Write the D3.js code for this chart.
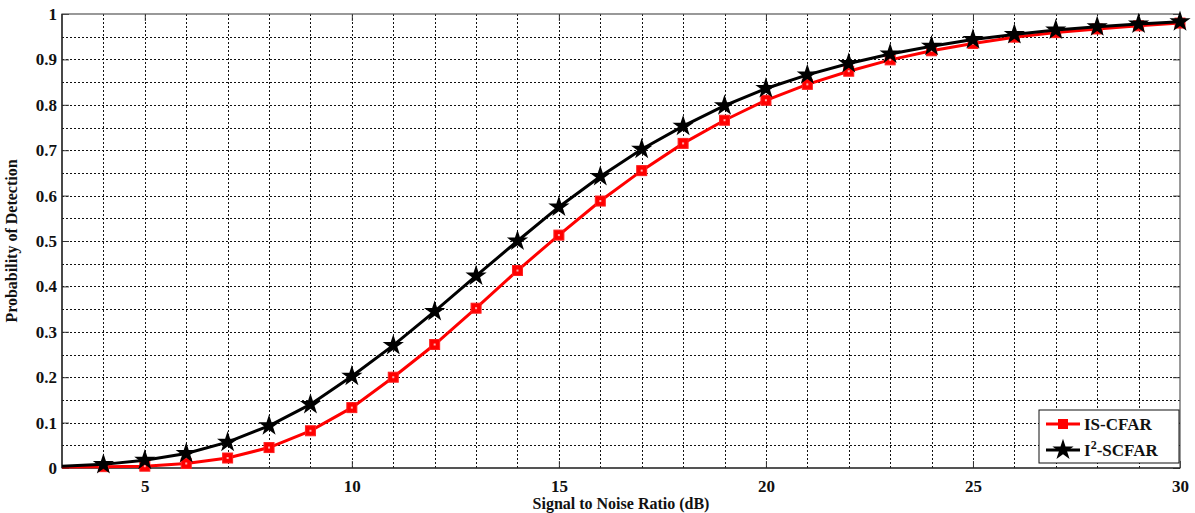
<!DOCTYPE html>
<meta charset="utf-8">
<style>
body { margin: 0; background: #fff; }
text { font-family: "Liberation Serif", "DejaVu Serif", serif; font-weight: bold; fill: #111; }
.grid line { stroke: #111; stroke-width: 1; stroke-dasharray: 2,2; shape-rendering: crispEdges; }
</style>
<body>
<script src="https://d3js.org/d3.v7.min.js"></script>
<script>
var snr = [3,4,5,6,7,8,9,10,11,12,13,14,15,16,17,18,19,20,21,22,23,24,25,26,27,28,29,30];
var isCfar = [0.002,0.003,0.004,0.01,0.022,0.045,0.082,0.133,0.2,0.272,0.352,0.435,0.513,0.588,0.655,0.715,0.766,0.81,0.845,0.874,0.899,0.919,0.935,0.949,0.959,0.967,0.974,0.98];
var i2Scfar = [0.004,0.008,0.017,0.032,0.057,0.093,0.14,0.202,0.27,0.345,0.423,0.5,0.575,0.642,0.702,0.753,0.798,0.836,0.866,0.891,0.912,0.929,0.944,0.955,0.965,0.972,0.978,0.983];
var xTicks = [5,10,15,20,25,30];
var yTicks = [0,0.1,0.2,0.3,0.4,0.5,0.6,0.7,0.8,0.9,1];

var margin = {top: 14, right: 15, bottom: 45, left: 62},
    width = 1195 - margin.left - margin.right,
    height = 513 - margin.top - margin.bottom;

var svg = d3.select("body").append("svg")
    .attr("width", 1195)
    .attr("height", 513)
  .append("g")
    .attr("transform", "translate(" + margin.left + "," + margin.top + ")");

var x = d3.scaleLinear().domain([3, 30]).range([0, width]);
var y = d3.scaleLinear().domain([0, 1]).range([height, 0]);

// dotted grid, every 1 dB and every 0.05
var grid = svg.append("g").attr("class", "grid");
grid.selectAll(".gx").data(d3.range(4, 30)).enter().append("line")
    .attr("x1", d => Math.round(x(d)) + 0.5).attr("x2", d => Math.round(x(d)) + 0.5)
    .attr("y1", 0).attr("y2", height);
grid.selectAll(".gy").data(d3.range(1, 20).map(d => d * 0.05)).enter().append("line")
    .attr("y1", d => Math.round(y(d)) + 0.5).attr("y2", d => Math.round(y(d)) + 0.5)
    .attr("x1", 0).attr("x2", width);

// axes
var xAxis = d3.axisBottom(x).tickValues(xTicks).tickSize(-7).tickPadding(12);
var yAxis = d3.axisLeft(y).tickValues(yTicks).tickSize(-7).tickPadding(5).tickFormat(d3.format("~g"));

svg.append("g").attr("transform", "translate(0," + height + ")").call(xAxis)
  .call(g => g.select(".domain").remove());
svg.append("g").call(yAxis).call(g => g.select(".domain").remove());
svg.append("g").call(d3.axisTop(x).tickValues(xTicks).tickSize(-7).tickFormat(""))
  .call(g => g.select(".domain").remove());
svg.append("g").attr("transform", "translate(" + width + ",0)")
  .call(d3.axisRight(y).tickValues(yTicks).tickSize(-7).tickFormat(""))
  .call(g => g.select(".domain").remove());
svg.selectAll(".tick line").attr("stroke", "#333");
svg.selectAll(".tick text").style("font-size", "17px").attr("fill", "#111");

svg.append("rect").attr("width", width).attr("height", height)
    .attr("fill", "none").attr("stroke", "#555").attr("stroke-width", 1.2);
svg.append("line").attr("x1", 0).attr("x2", width).attr("y1", height).attr("y2", height)
    .attr("stroke", "#111").attr("stroke-width", 1.2);
svg.append("line").attr("x1", 0).attr("x2", 0).attr("y1", 0).attr("y2", height)
    .attr("stroke", "#111").attr("stroke-width", 1.2);

// labels
svg.append("text").attr("x", width / 2).attr("y", height + 41)
    .attr("text-anchor", "middle").style("font-size", "16px")
    .text("Signal to Noise Ratio (dB)");
svg.append("text").attr("transform", "rotate(-90)")
    .attr("x", -height / 2).attr("y", -45)
    .attr("text-anchor", "middle").style("font-size", "16px")
    .text("Probability of Detection");

// series
var line = d3.line().x(d => x(d[0])).y(d => y(d[1]));
var redData = snr.map((s, i) => [s, isCfar[i]]);
var blackData = snr.map((s, i) => [s, i2Scfar[i]]);

svg.append("path").datum(redData).attr("d", line)
    .attr("fill", "none").attr("stroke", "#ff0000").attr("stroke-width", 3);
svg.selectAll(".sq").data(redData.slice(1)).enter().append("rect")
    .attr("x", d => x(d[0]) - 5).attr("y", d => y(d[1]) - 5)
    .attr("width", 10).attr("height", 10)
    .attr("fill", "#ff0000").attr("stroke", "#ff2020").attr("stroke-width", 1);
svg.selectAll(".sqc").data(redData.slice(1)).enter().append("rect")
    .attr("x", d => x(d[0]) - 1).attr("y", d => y(d[1]) - 1)
    .attr("width", 2).attr("height", 2).attr("fill", "#ffb0b0");

svg.append("path").datum(blackData).attr("d", line)
    .attr("fill", "none").attr("stroke", "#000").attr("stroke-width", 3);
var star = d3.symbol().type(d3.symbolStar).size(140);
svg.selectAll(".st").data(blackData.slice(1)).enter().append("path")
    .attr("d", star)
    .attr("transform", d => "translate(" + x(d[0]) + "," + y(d[1]) + ")")
    .attr("fill", "#000");

// legend
var lg = svg.append("g").attr("transform", "translate(" + (1039 - margin.left) + "," + (410 - margin.top) + ")");
lg.append("rect").attr("width", 140).attr("height", 53)
    .attr("fill", "#fff").attr("stroke", "#111").attr("stroke-width", 1);
var items = [{name: "IS-CFAR", color: "#ff0000", y: 14}, {name: "I2-SCFAR", color: "#000", y: 40}];
items.forEach(function(it, i) {
  lg.append("line").attr("x1", 7).attr("x2", 41).attr("y1", it.y).attr("y2", it.y)
      .attr("stroke", it.color).attr("stroke-width", 3);
  if (i === 0) {
    lg.append("rect").attr("x", 19).attr("y", it.y - 5).attr("width", 10).attr("height", 10).attr("fill", it.color);
  } else {
    lg.append("path").attr("d", star).attr("transform", "translate(24," + it.y + ")").attr("fill", "#000");
  }
  var t = lg.append("text").attr("x", 45).attr("y", it.y + 6).style("font-size", "17px");
  if (i === 0) {
    t.text("IS-CFAR");
  } else {
    t.append("tspan").text("I");
    t.append("tspan").attr("dy", -7).style("font-size", "12px").text("2");
    t.append("tspan").attr("dy", 7).text("-SCFAR");
  }
});
</script>
